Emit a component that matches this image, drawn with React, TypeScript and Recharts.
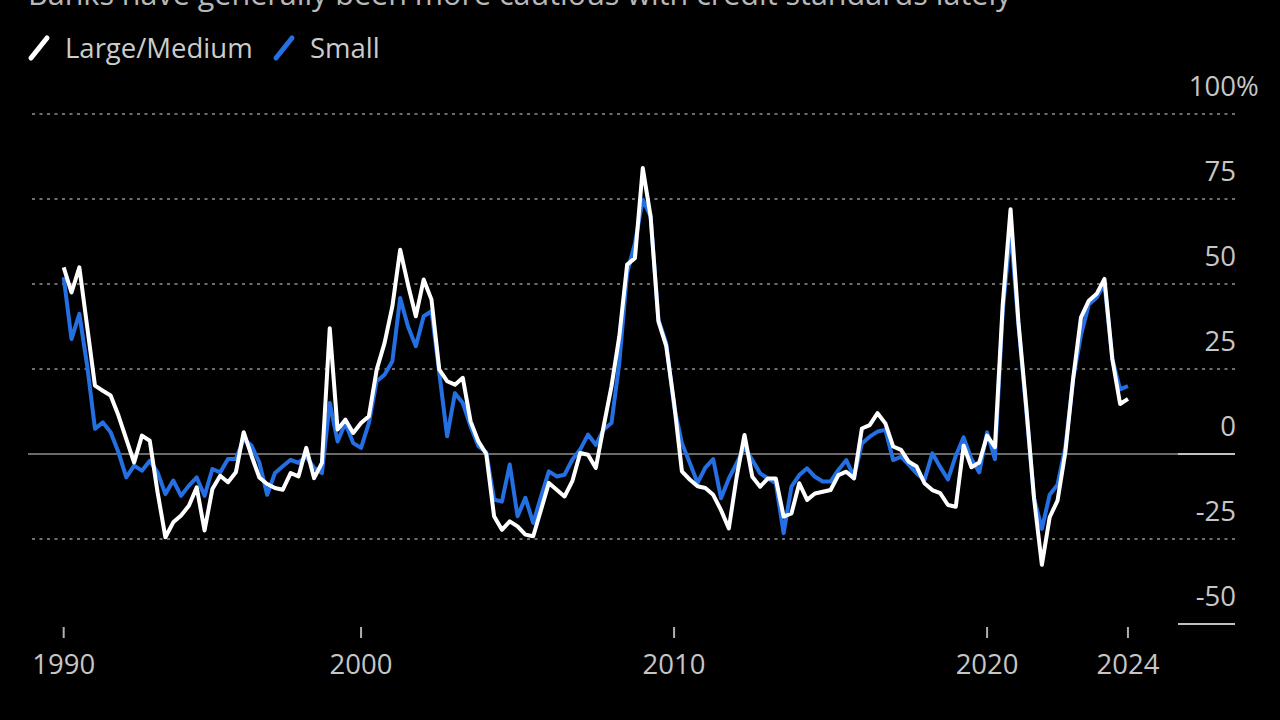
import { Line, LineChart, ReferenceLine, XAxis, YAxis } from "recharts";

// Net % of banks tightening C&I lending standards, quarterly from 1990 Q2
const firstQuarter = 1990.5;

const largeMedium = [
  54.9, 47.5, 54.9, 37.5, 20.1, 18.6, 17.2, 11.3, 4.4, -2.5,
  5.4, 3.9, -11.3, -24.5, -20.1, -18.1, -15.2, -9.8, -22.5, -10.3,
  -6.4, -8.3, -5.4, 6.4, -0.5, -6.9, -8.8, -10, -10.5, -5.6,
  -6.6, 1.8, -7.1, -2.6, 37, 7.2, 10.1, 6.2, 9.1, 11.1,
  24.8, 32.6, 43.4, 60.1, 49.8, 40.5, 51.3, 45.4, 24.8, 21.4,
  20.4, 22.4, 9.6, 3.7, 0, -18.3, -22.3, -19.8, -21.3, -23.7,
  -24.2, -16.4, -8.5, -10.5, -12.5, -8, 0.3, -0.2, -4.1, 8.1,
  19.9, 34.6, 55.7, 57.6, 84.1, 69.9, 39, 31.7, 15, -5.1,
  -7.5, -9.5, -10, -12, -16.5, -21.9, -6.7, 5.6, -6.7, -9.6,
  -7.2, -7.2, -18.4, -17.5, -8.6, -13.5, -11.6, -11.1, -10.6, -6.2,
  -5.2, -7.2, 7.5, 8.5, 12, 9, 2.2, 1.2, -2.3, -3.7,
  -8.6, -10.6, -11.5, -15, -15.5, 2.5, -3.9, -2.5, 5.4, 2,
  44, 72, 39, 14, -13, -32.6, -18.6, -13.7, 0.5, 22.3,
  40.2, 45.1, 47.1, 51.5, 28, 14.7, 16.2,
];

const small = [
  52, 33.8, 41.2, 26, 7.4, 9.3, 6.4, 0.5, -6.9, -3.4,
  -4.9, -2, -5.4, -11.8, -7.8, -12.3, -9.3, -6.9, -12.3, -4.4,
  -5.4, -1.5, -1.5, 4.4, 2.5, -2.5, -12, -5.6, -3.6, -1.7,
  -2.6, -0.7, -4.1, -5.6, 15, 3.7, 9.1, 3.2, 1.8, 9.1,
  21.4, 23.3, 27.3, 45.9, 37.5, 31.7, 40.5, 42, 23.8, 5.2,
  17.9, 15, 8.1, 2.3, 0.5, -13.4, -14, -3.1, -18.3, -12.9,
  -20.3, -12.5, -5.1, -6.6, -6.1, -1.7, 1.3, 5.7, 2.7, 7.2,
  9.1, 26.8, 53.2, 62, 74.8, 69.9, 39.5, 32.6, 14, 3.2,
  -2.6, -8.5, -4, -1.5, -13, -7.2, -2.7, 2, -1.8, -5.7,
  -7.2, -8.6, -23.3, -9.6, -6.2, -4.2, -6.7, -8.1, -8.1, -4.7,
  -1.8, -6.7, 3.1, 5.1, 6.6, 7.1, -1.8, -0.8, -3.2, -5.7,
  -7.6, 0.2, -3.8, -7.5, -0.5, 4.9, -1.5, -5.4, 6.4, -1.5,
  42, 66, 38, 13, -13, -22, -12, -9, 2, 22,
  35, 44, 46, 50, 28, 19, 20,
];

const yearTicks = [1990.5, 2000, 2010, 2020, 2024.5];
const yearLabels = ["1990", "2000", "2010", "2020", "2024"];
const valueTicks = [-50, -25, 0, 25, 50, 75, 100];
const dottedLevels = [100, 75, 50, 25, -25];

const series = [
  { key: "large", name: "Large/Medium", color: "#ffffff" },
  { key: "small", name: "Small", color: "#2470e3" },
];

const title =
  "Banks have generally been more cautious with credit standards lately";

const data = largeMedium.map((v, i) => ({
  t: firstQuarter + i * 0.25,
  large: v,
  small: small[i],
}));

const FONT = "'Open Sans', sans-serif";
const LABEL_RIGHT = 1236;
const TICK_FONT = 27.5;

function ValueTick({ y, payload }: any) {
  const v = payload.value;
  return (
    <g>
      <text
        x={LABEL_RIGHT}
        y={y - 18}
        textAnchor="end"
        fill="#c6c6c6"
        fontSize={TICK_FONT}
        fontFamily={FONT}
      >
        {v < 0 ? `-${Math.abs(v)}` : v}
      </text>
      {v === 100 && (
        <text
          x={LABEL_RIGHT}
          y={y - 18}
          fill="#c6c6c6"
          fontSize={TICK_FONT}
          fontFamily={FONT}
        >
          %
        </text>
      )}
    </g>
  );
}

function YearTick({ x, y, index }: any) {
  return (
    <g>
      <line x1={x} x2={x} y1={y + 3} y2={y + 14} stroke="#b0b0b0" strokeWidth={2} />
      <text
        x={x}
        y={y + 50}
        textAnchor="middle"
        fill="#c6c6c6"
        fontSize={TICK_FONT}
        fontFamily={FONT}
      >
        {yearLabels[index]}
      </text>
    </g>
  );
}

export default function App() {
  return (
    <div
      style={{
        position: "absolute",
        left: 0,
        top: 0,
        width: 1280,
        height: 720,
        background: "#000",
        overflow: "hidden",
      }}
    >
      <svg
        width={1280}
        height={100}
        style={{ position: "absolute", left: 0, top: 0 }}
      >
        <text x={28} y={5} fill="#b8b8b8" fontSize={30.5} fontFamily={FONT}>
          {title}
        </text>
        {series.map((s, i) => {
          const x0 = i === 0 ? 31 : 276;
          return (
            <g key={s.key}>
              <line
                x1={x0}
                y1={58}
                x2={x0 + 16}
                y2={38}
                stroke={s.color}
                strokeWidth={5}
                strokeLinecap="round"
              />
              <text
                x={x0 + 34}
                y={58}
                fill="#cccccc"
                fontSize={TICK_FONT}
                fontFamily={FONT}
              >
                {s.name}
              </text>
            </g>
          );
        })}
      </svg>
      <LineChart
        width={1280}
        height={720}
        data={data}
        margin={{ top: 114, right: 44, bottom: 36, left: 28 }}
      >
        <XAxis
          dataKey="t"
          type="number"
          domain={[1989.36, 2027.92]}
          ticks={yearTicks}
          tick={<YearTick />}
          tickLine={false}
          axisLine={false}
          tickSize={0}
          tickMargin={0}
          height={60}
          interval={0}
        />
        <YAxis
          orientation="right"
          domain={[-50, 100]}
          ticks={valueTicks}
          tick={<ValueTick />}
          tickLine={false}
          axisLine={false}
          width={1}
          interval={0}
        />
        {dottedLevels.map((v) => (
          <ReferenceLine
            key={v}
            y={v}
            stroke="#6e6e6e"
            strokeWidth={2}
            strokeDasharray="3 4.5"
          />
        ))}
        <ReferenceLine y={0} stroke="#6a6a6a" strokeWidth={2} />
        <ReferenceLine
          segment={[
            { x: 2026.1, y: 0 },
            { x: 2027.92, y: 0 },
          ]}
          stroke="#c0c0c0"
          strokeWidth={2}
        />
        <ReferenceLine
          segment={[
            { x: 2026.1, y: -50 },
            { x: 2027.92, y: -50 },
          ]}
          stroke="#c0c0c0"
          strokeWidth={2}
        />
        {[...series].reverse().map((s) => (
          <Line
            key={s.key}
            dataKey={s.key}
            name={s.name}
            type="linear"
            stroke={s.color}
            strokeWidth={4}
            strokeLinejoin="round"
            dot={false}
            isAnimationActive={false}
          />
        ))}
      </LineChart>
    </div>
  );
}
